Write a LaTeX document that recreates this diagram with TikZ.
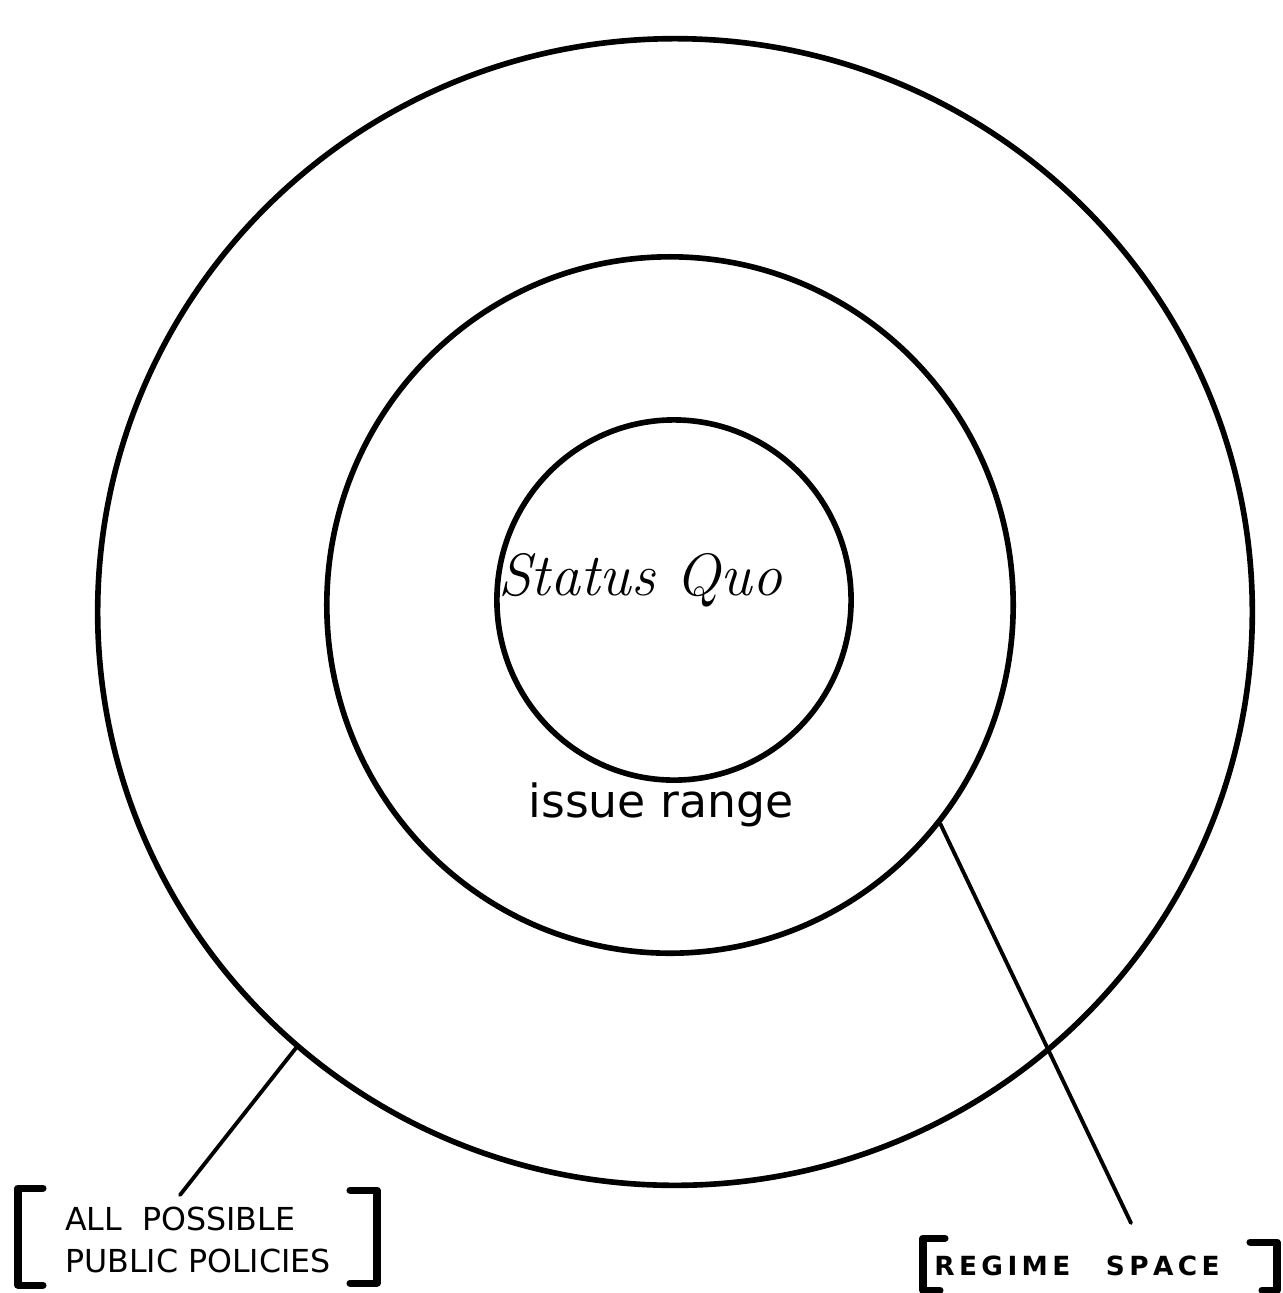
\documentclass[tikz,border=0pt]{standalone}
\usepackage{fontspec}
\newfontfamily\handfont{DejaVu Sans}
\usetikzlibrary{shapes.geometric,positioning}
\tikzset{
  ring/.style={ellipse, draw=black, line width=1.6pt, inner sep=0pt},
  lead/.style={line width=1.1pt, black, line cap=round},
  brk/.style={line width=2pt, black, line cap=round, line join=round},
  caps/.style={font=\handfont\fontsize{9}{12}\selectfont, align=left, inner sep=0pt},
}
\begin{document}
\begin{tikzpicture}[x=0.01cm, y=-0.01cm]
  \useasboundingbox (0,0) rectangle (1283,1293);
  % three rings round the status quo
  \node[ring, minimum width=11.54cm, minimum height=11.46cm] (outer) at (675,612) {};
  \node[ring, minimum width=6.86cm, minimum height=6.96cm] (middle) at (670,605) {};
  \node[ring, minimum width=3.54cm, minimum height=3.60cm] (inner) at (674,600) {};
  \node[font=\itshape\fontsize{17}{20}\selectfont] (sq) at (640,580) {Status Quo};
  \node[font=\handfont\fontsize{13}{15}\selectfont] (issue) at (661,805) {issue range};

  % bracketed labels
  \node[caps] (pol) at (198,1240) {ALL\ \ POSSIBLE\\PUBLIC POLICIES};
  \draw[brk] (43,1188) -- (18,1188) -- (18,1285) -- (43,1285);
  \draw[brk] (350,1190) -- (377,1190) -- (377,1283) -- (350,1283);
  \node[caps, font=\handfont\bfseries\fontsize{7.5}{9}\selectfont] (reg) at (1077,1266)
    {R\,E\,G\,I\,M\,E\quad\ S\,P\,A\,C\,E};
  \draw[brk] (945,1238) -- (923,1238) -- (923,1290) -- (940,1290);
  \draw[brk] (1250,1242) -- (1277,1242) -- (1277,1290) -- (1262,1290);

  \coordinate (polend) at (180,1195);
  \coordinate (regend) at (1131,1223);
  \draw[lead] (outer.229) -- (polend);
  \draw[lead] (middle.321) -- (regend);
\end{tikzpicture}
\end{document}
